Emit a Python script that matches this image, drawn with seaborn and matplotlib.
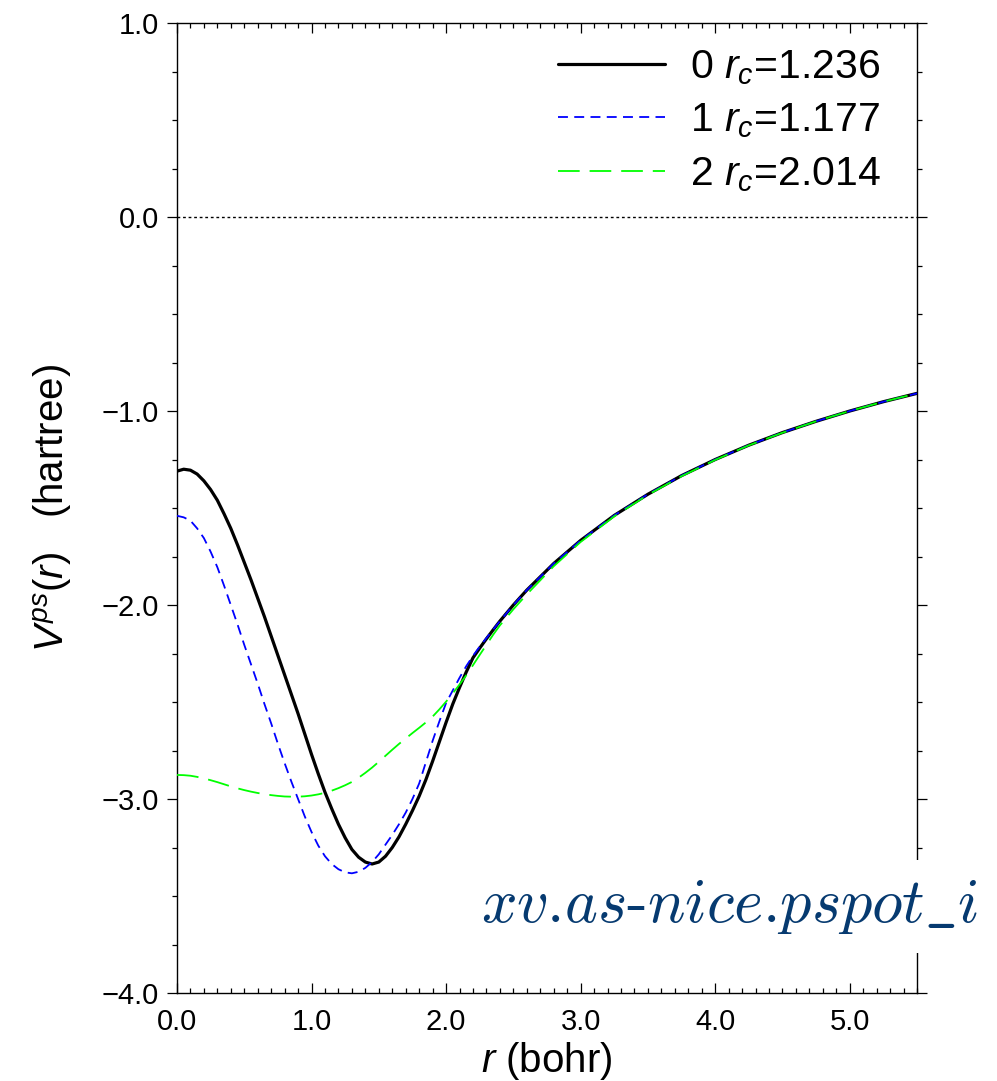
import matplotlib
matplotlib.use('Agg')
import matplotlib.pyplot as plt
from matplotlib.ticker import MultipleLocator, FuncFormatter
import numpy as np
import pandas as pd
import seaborn as sns

# data -----------------------------------------------------------------------
r = [0.0, 0.05, 0.1, 0.15, 0.2, 0.25, 0.3, 0.35, 0.4, 0.45, 0.5, 0.55, 0.6,
     0.65, 0.7, 0.75, 0.8, 0.85, 0.9, 0.95, 1.0, 1.05, 1.1, 1.15, 1.2, 1.25,
     1.3, 1.35, 1.4, 1.45, 1.5, 1.55, 1.6, 1.65, 1.7, 1.75, 1.8, 1.85, 1.9,
     1.95, 2.0, 2.05, 2.1, 2.15, 2.2, 2.25, 2.3, 2.35, 2.4, 2.5, 2.6, 2.8,
     3.0, 3.25, 3.5, 3.75, 4.0, 4.25, 4.5, 4.75, 5.0, 5.25, 5.5]
v_l0 = [-1.310, -1.300, -1.305, -1.325, -1.360, -1.405, -1.460, -1.530,
        -1.605, -1.690, -1.780, -1.870, -1.965, -2.060, -2.160, -2.260,
        -2.360, -2.460, -2.560, -2.665, -2.770, -2.870, -2.965, -3.050,
        -3.130, -3.200, -3.260, -3.300, -3.325, -3.335, -3.325, -3.295,
        -3.250, -3.195, -3.130, -3.060, -2.985, -2.900, -2.805, -2.705,
        -2.605, -2.510, -2.425, -2.345, -2.272, -2.222, -2.174, -2.128,
        -2.083, -2.000, -1.923, -1.786, -1.667, -1.538, -1.429, -1.333,
        -1.250, -1.176, -1.111, -1.053, -1.000, -0.952, -0.909]
v_l1 = [-1.540, -1.548, -1.565, -1.605, -1.655, -1.725, -1.805, -1.900,
        -2.000, -2.100, -2.205, -2.305, -2.405, -2.510, -2.610, -2.715,
        -2.815, -2.910, -3.000, -3.090, -3.170, -3.240, -3.295, -3.335,
        -3.362, -3.378, -3.383, -3.375, -3.355, -3.325, -3.285, -3.235,
        -3.185, -3.130, -3.070, -3.000, -2.920, -2.810, -2.700, -2.600,
        -2.505, -2.440, -2.375, -2.315, -2.262, -2.214, -2.170, -2.126,
        -2.083, -2.000, -1.923, -1.786, -1.667, -1.538, -1.429, -1.333,
        -1.250, -1.176, -1.111, -1.053, -1.000, -0.952, -0.909]
v_l2 = [-2.876, -2.877, -2.880, -2.886, -2.894, -2.903, -2.913, -2.924,
        -2.935, -2.945, -2.954, -2.962, -2.969, -2.975, -2.980, -2.984,
        -2.987, -2.988, -2.988, -2.986, -2.982, -2.976, -2.968, -2.957,
        -2.944, -2.929, -2.912, -2.890, -2.865, -2.838, -2.808, -2.777,
        -2.746, -2.716, -2.688, -2.660, -2.633, -2.605, -2.575, -2.538,
        -2.498, -2.455, -2.410, -2.362, -2.310, -2.257, -2.205, -2.153,
        -2.105, -2.022, -1.945, -1.800, -1.675, -1.543, -1.432, -1.336,
        -1.252, -1.177, -1.112, -1.053, -1.000, -0.952, -0.909]
labels = [r'0 $r_c$=1.236', r'1 $r_c$=1.177', r'2 $r_c$=2.014']
colors = ['black', '#0000ff', '#00ff00']
tag = r'$xv\text{.}as\text{-}nice\text{.}pspot\_i$'

# style ------------------------------------------------------------------------
sns.set_theme(style='ticks')
plt.rcParams['font.family'] = ['Liberation Sans', 'DejaVu Sans']
plt.rcParams['mathtext.fontset'] = 'custom'
plt.rcParams['mathtext.rm'] = 'Liberation Sans'
plt.rcParams['mathtext.it'] = 'Liberation Sans:italic'
plt.rcParams['axes.linewidth'] = 1.0
plt.rcParams['axes.edgecolor'] = 'black'
plt.rcParams['text.color'] = 'black'
plt.rcParams['axes.labelcolor'] = 'black'
plt.rcParams['xtick.color'] = 'black'
plt.rcParams['ytick.color'] = 'black'

df = pd.DataFrame({'r': r, 'l0': v_l0, 'l1': v_l1, 'l2': v_l2})

fig, ax = plt.subplots(figsize=(9.97, 10.81), dpi=100)
fig.subplots_adjust(left=0.1775, right=0.9198, top=0.9787, bottom=0.0814)

ax.axhline(0, color='black', lw=1.0, ls=(0, (2, 2)), zorder=1)

sns.lineplot(data=df, x='r', y='l0', color=colors[0], lw=2.3, label=labels[0], ax=ax, zorder=3)
sns.lineplot(data=df, x='r', y='l1', color=colors[1], lw=1.3, label=labels[1], ax=ax, zorder=4)
ax.lines[-1].set_dashes((5.5, 3.5))
sns.lineplot(data=df, x='r', y='l2', color=colors[2], lw=1.3, label=labels[2], ax=ax, zorder=5)
ax.lines[-1].set_dashes((12, 5.5))

ax.set_xlim(0, 5.5)
ax.set_ylim(-4, 1)
ax.xaxis.set_major_locator(MultipleLocator(1))
ax.xaxis.set_minor_locator(MultipleLocator(0.1))
ax.yaxis.set_major_locator(MultipleLocator(1))
ax.yaxis.set_minor_locator(MultipleLocator(0.25))
fmt = FuncFormatter(lambda v, p: f'{v:.1f}'.replace('-', '\u2212'))
ax.xaxis.set_major_formatter(fmt)
ax.yaxis.set_major_formatter(fmt)
ax.tick_params(axis='x', which='both', direction='in', top=True, bottom=True,
               labelsize=21, pad=11)
ax.tick_params(axis='y', which='both', direction='out', left=True, right=True,
               labelsize=21, pad=6)
ax.tick_params(which='major', length=7, width=0.9, color='black')
ax.tick_params(which='minor', length=3.6, width=0.9, color='black')

ax.set_xlabel(r'$r$ (bohr)', fontsize=29, labelpad=3)
ax.set_ylabel(r'$V^{ps}(r)$   (hartree)', fontsize=29, labelpad=20)

ax.legend(loc='upper right', bbox_to_anchor=(1.0, 1.012), frameon=False,
          fontsize=29.5, handlelength=2.6, handletextpad=0.6, labelspacing=0.36)

fig.text(0.981, 0.147, tag, fontsize=45, color='#063a70', ha='right',
         va='baseline', math_fontfamily='cm',
         bbox=dict(facecolor='white', edgecolor='none', pad=12))

fig.savefig('out.png', dpi=100)
